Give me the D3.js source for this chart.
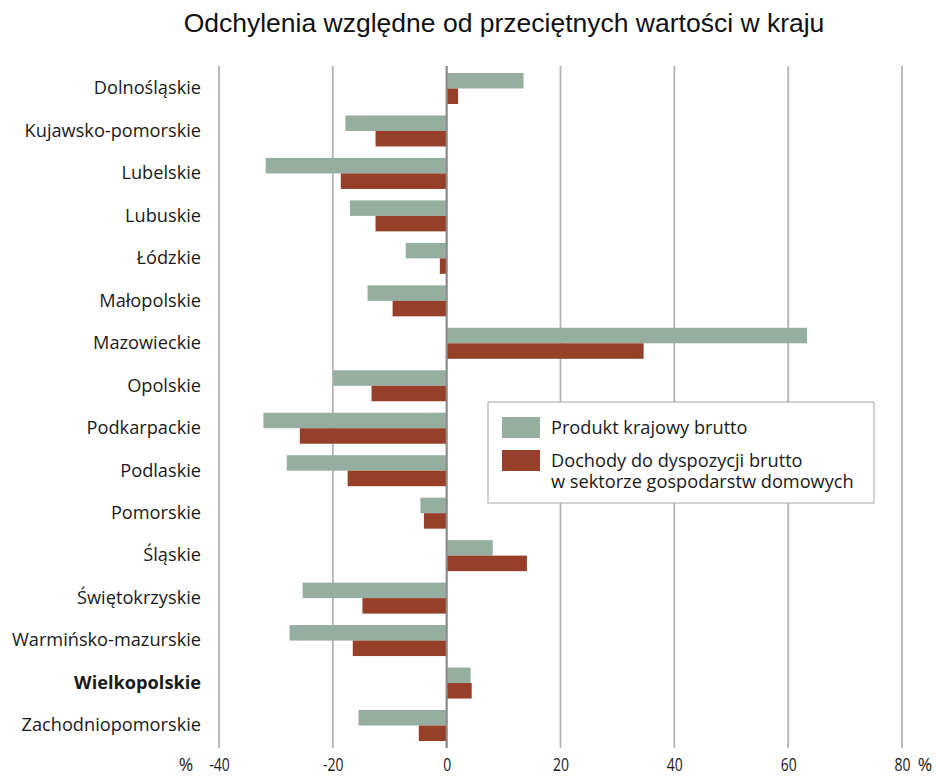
<!DOCTYPE html>
<html>
<head>
<meta charset="utf-8">
<script src="https://cdn.jsdelivr.net/npm/d3@7"></script>
<style>
  body { margin: 0; background: #fff; }
  svg { display: block; }
</style>
</head>
<body>
<div id="wrapper"></div>
<script>
const regions = ['Dolnośląskie', 'Kujawsko-pomorskie', 'Lubelskie', 'Lubuskie', 'Łódzkie', 'Małopolskie',
  'Mazowieckie', 'Opolskie', 'Podkarpackie', 'Podlaskie', 'Pomorskie', 'Śląskie', 'Świętokrzyskie',
  'Warmińsko-mazurskie', 'Wielkopolskie', 'Zachodniopomorskie']
const pkb = [13.5, -17.8, -31.8, -17.0, -7.2, -13.9, 63.3, -19.9, -32.2, -28.1, -4.6, 8.1, -25.3, -27.6, 4.2, -15.5]
const dochody = [2.0, -12.5, -18.6, -12.5, -1.2, -9.5, 34.6, -13.2, -25.8, -17.4, -4.0, 14.1, -14.8, -16.5, 4.4, -4.9]
const seriesNames = ['Produkt krajowy brutto', 'Dochody do dyspozycji brutto\nw sektorze gospodarstw domowych']
const xTicks = [-40, -20, 0, 20, 40, 60, 80]
const boldRegion = 'Wielkopolskie'

const colors = ['#96ae9f', '#96402a']
const labelFont = '"Open Sans", "Noto Sans", sans-serif'
const labelSize = '18.2px'

const width = 936, height = 776
const margin = { top: 66, right: 34, bottom: 28, left: 219 }
const boundWidth = width - margin.left - margin.right
const boundHeight = height - margin.top - margin.bottom

const svg = d3.select('#wrapper').append('svg')
  .attr('width', width)
  .attr('height', height)

svg.append('text')
  .attr('x', 504)
  .attr('y', 32)
  .attr('text-anchor', 'middle')
  .style('font-family', '"Liberation Sans", Arial, sans-serif')
  .style('font-size', '26.5px')
  .attr('fill', '#111')
  .text('Odchylenia względne od przeciętnych wartości w kraju')

const bounds = svg.append('g')
  .attr('transform', `translate(${margin.left},${margin.top})`)

const xScale = d3.scaleLinear()
  .domain([-40, 80])
  .range([0, boundWidth])

const yScale = d3.scaleBand()
  .domain(regions)
  .range([7, 675])
  .paddingInner(0.27)
  .paddingOuter(0)

const subScale = d3.scaleBand()
  .domain([0, 1])
  .range([0, yScale.bandwidth()])

// grid
bounds.append('g')
  .selectAll('line')
  .data(xTicks)
  .join('line')
  .attr('x1', d => xScale(d))
  .attr('x2', d => xScale(d))
  .attr('y1', 0)
  .attr('y2', boundHeight)
  .attr('stroke', '#b4b4b4')
  .attr('stroke-width', 1.8)

// bars
const rows = regions.map((r, i) => ({ region: r, values: [pkb[i], dochody[i]] }))
const groups = bounds.append('g')
  .selectAll('g')
  .data(rows)
  .join('g')
  .attr('transform', d => `translate(0,${yScale(d.region)})`)

groups.selectAll('rect')
  .data(d => d.values.map((v, k) => ({ v, k })))
  .join('rect')
  .attr('x', d => xScale(Math.min(0, d.v)))
  .attr('width', d => Math.abs(xScale(d.v) - xScale(0)))
  .attr('y', d => subScale(d.k))
  .attr('height', subScale.bandwidth())
  .attr('fill', d => colors[d.k])

// zero line on top
bounds.append('line')
  .attr('x1', xScale(0)).attr('x2', xScale(0))
  .attr('y1', 0).attr('y2', boundHeight)
  .attr('stroke', '#8c8c8c')
  .attr('stroke-width', 2)

// category labels
const yAxis = bounds.append('g')
  .attr('transform', 'translate(-18,0)')
  .call(d3.axisLeft(yScale).tickSize(0).tickPadding(0))
yAxis.select('.domain').remove()
yAxis.selectAll('text')
  .style('font-family', labelFont)
  .style('font-size', labelSize)
  .style('font-weight', d => d === boldRegion ? 'bold' : 'normal')
  .attr('fill', '#1a1a1a')

// x axis labels
const xAxis = bounds.append('g')
  .attr('transform', `translate(0,${boundHeight})`)
  .call(d3.axisBottom(xScale).tickValues(xTicks).tickSize(0).tickPadding(11).tickFormat(d => String(d)))
xAxis.select('.domain').remove()
xAxis.selectAll('.tick text')
  .style('font-family', labelFont)
  .style('font-size', '17.5px')
  .attr('fill', '#1a1a1a')
  .attr('transform', 'scale(0.8,1)')

const pctLabels = [{ x: xScale(-40) - 33 }, { x: xScale(80) + 23 }]
xAxis.selectAll('text.pct')
  .data(pctLabels)
  .join('text')
  .attr('class', 'pct')
  .attr('x', d => d.x)
  .attr('y', 11)
  .attr('dy', '0.71em')
  .attr('text-anchor', 'middle')
  .style('font-family', labelFont)
  .style('font-size', '17.5px')
  .attr('fill', '#1a1a1a')
  .text('%')

// legend
const legend = svg.append('g')
  .attr('transform', 'translate(488,402)')
legend.append('rect')
  .attr('width', 386)
  .attr('height', 101)
  .attr('fill', '#fff')
  .attr('stroke', '#a6a6a6')
  .attr('stroke-width', 1)

const legendItems = legend.selectAll('g.item')
  .data(seriesNames)
  .join('g')
  .attr('class', 'item')
  .attr('transform', (d, i) => `translate(14,${15 + i * 33})`)
legendItems.append('rect')
  .attr('width', 38)
  .attr('height', 21)
  .attr('fill', (d, i) => colors[i])
legendItems.append('text')
  .attr('x', 49)
  .attr('y', 17)
  .style('font-family', labelFont)
  .style('font-size', labelSize)
  .attr('fill', '#1a1a1a')
  .selectAll('tspan')
  .data(d => d.split('\n'))
  .join('tspan')
  .attr('x', 49)
  .attr('dy', (d, i) => i === 0 ? 0 : 21)
  .text(d => d)
</script>
</body>
</html>
